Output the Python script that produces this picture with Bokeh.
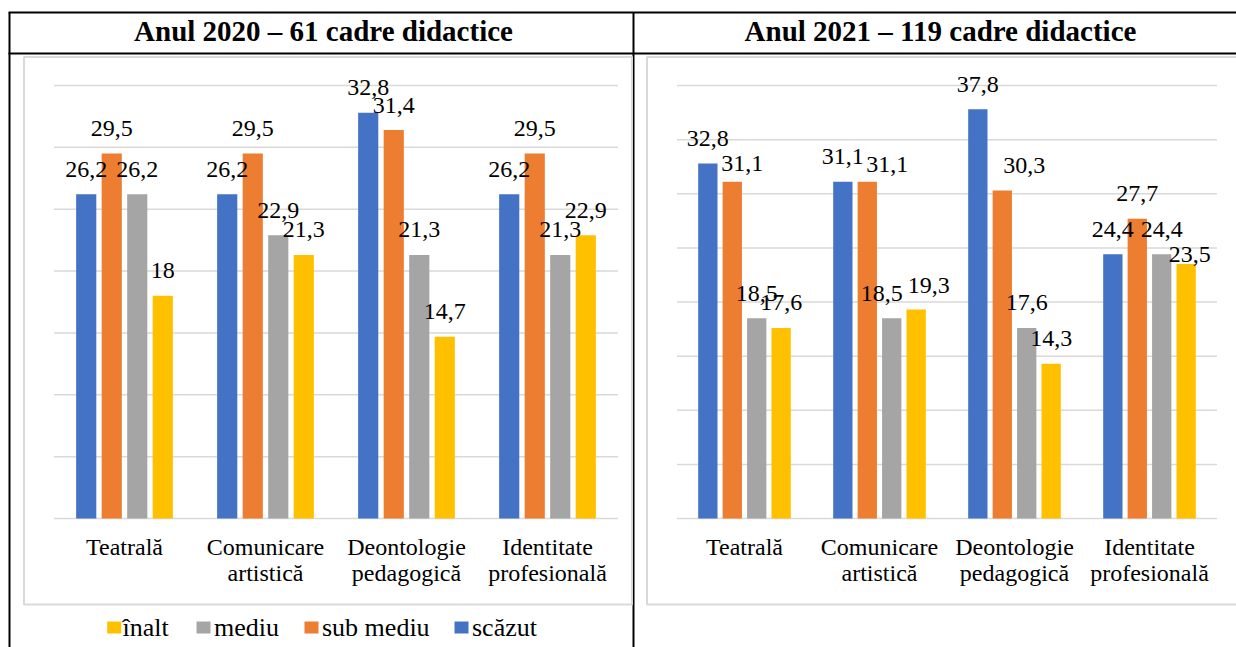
from bokeh.plotting import figure
from bokeh.models import Range1d
from bokeh.core.properties import value
from bokeh.embed import file_html
from bokeh.resources import INLINE

# ---------------- data ----------------
titles = ["Anul 2020 – 61 cadre didactice", "Anul 2021 – 119 cadre didactice"]
categories = ["Teatrală", "Comunicare\nartistică", "Deontologie\npedagogică", "Identitate\nprofesională"]
series_names = ["scăzut", "sub mediu", "mediu", "înalt"]
legend_order = ["înalt", "mediu", "sub mediu", "scăzut"]

scazut_2020 = [26.2, 26.2, 32.8, 26.2]
sub_mediu_2020 = [29.5, 29.5, 31.4, 29.5]
mediu_2020 = [26.2, 22.9, 21.3, 21.3]
inalt_2020 = [18.0, 21.3, 14.7, 22.9]

scazut_2021 = [32.8, 31.1, 37.8, 24.4]
sub_mediu_2021 = [31.1, 31.1, 30.3, 27.7]
mediu_2021 = [18.5, 18.5, 17.6, 24.4]
inalt_2021 = [17.6, 19.3, 14.3, 23.5]

y_max_2020 = 35
y_max_2021 = 40
y_step = 5

# ---------------- styles / layout ----------------
FONT = "Liberation Serif"
COLORS = {"scăzut": "#4472C4", "sub mediu": "#ED7D31", "mediu": "#A5A5A5", "înalt": "#FFC000"}
GRID_COLOR = "#D9D9D9"
W, H = 1236, 647
Y_BASE, Y_TOP = 518, 85          # canvas px of value 0 and of the axis max
BAR_W, BAR_STEP = 0.143, 0.181   # in category units
LABEL_GAP = 25                   # px between bar top and label centre
CAT_MID, CAT_LH = 546, 26.7      # category label line centres
LEG_Y = 627                      # legend row centre
TITLE_Y = 30.5

# manual label nudges (px, dx right / dy down) as in the original document
nudges_2021 = {(0, 1): (10, 7), (1, 1): (20, 7.5), (1, 2): (-10, 0),
               (1, 3): (12.5, 1), (2, 1): (22, 0), (3, 3): (3.5, 15)}

panels = [
    dict(key="L", x0=53.5, x1=617.5, ymax=y_max_2020,
         series=[scazut_2020, sub_mediu_2020, mediu_2020, inalt_2020], nudges={}),
    dict(key="R", x0=676.5, x1=1216.5, ymax=y_max_2021,
         series=[scazut_2021, sub_mediu_2021, mediu_2021, inalt_2021], nudges=nudges_2021),
]


def fmt(v):
    return f"{v:g}".replace(".", ",")


p = figure(width=W, height=H, x_range=Range1d(0, W), y_range=Range1d(H, 0),
           x_axis_type=None, y_axis_type=None, output_backend="svg",
           toolbar_location=None, tools="", min_border=0)
p.outline_line_color = None
p.background_fill_color = "white"
p.border_fill_color = "white"

# table lines
p.segment(x0=[8, 8, 9, 633], x1=[W, W, 9, 633], y0=[12, 53, 12, 12], y1=[12, 53, H, H],
          line_color="black", line_width=2)
# chart frames
p.quad(left=[23.5, 646.5], right=[631.5, 1250], top=[56.5, 56.5], bottom=[604, 604],
       fill_color=None, line_color=GRID_COLOR, line_width=2)
# header titles
p.text(x=[323, 940], y=[TITLE_Y, TITLE_Y], text=titles, text_font=value(FONT),
       text_font_style="bold", text_font_size="29px", text_align="center",
       text_baseline="middle", text_color="black")

xr, yr = {}, {}
geo = {}
n = len(categories)
for pn in panels:
    cw = (pn["x1"] - pn["x0"]) / n
    ppu = (Y_BASE - Y_TOP) / pn["ymax"]
    xr[pn["key"]] = Range1d(start=-pn["x0"] / cw, end=n + (W - pn["x1"]) / cw)
    yr[pn["key"]] = Range1d(start=-(H - Y_BASE) / ppu, end=pn["ymax"] + Y_TOP / ppu)
    geo[pn["key"]] = (cw, ppu)
p.extra_x_ranges = xr
p.extra_y_ranges = yr

for pn in panels:
    key = pn["key"]
    cw, ppu = geo[key]
    ticks = list(range(0, pn["ymax"] + 1, y_step))
    p.segment(x0=[0] * len(ticks), x1=[n] * len(ticks), y0=ticks, y1=ticks,
              line_color=GRID_COLOR, line_width=1.5, x_range_name=key, y_range_name=key)
    lx, ly, lt = [], [], []
    for k, (name, vals) in enumerate(zip(series_names, pn["series"])):
        xs = [i + 0.5 + (k - 1.5) * BAR_STEP for i in range(n)]
        p.vbar(x=xs, top=vals, bottom=0, width=BAR_W, fill_color=COLORS[name], line_color=None,
               x_range_name=key, y_range_name=key)
        for i, v in enumerate(vals):
            dx, dy = pn["nudges"].get((i, k), (0, 0))
            lx.append(xs[i] + dx / cw)
            ly.append(v + (LABEL_GAP - dy) / ppu)
            lt.append(fmt(v))
    p.text(x=lx, y=ly, text=lt, text_font=value(FONT), text_font_size="24px",
           text_align="center", text_baseline="middle", text_color="black",
           x_range_name=key, y_range_name=key)
    cx, cy, ct = [], [], []
    for i, name in enumerate(categories):
        for j, line in enumerate(name.split("\n")):
            cx.append(i + 0.5)
            cy.append(CAT_MID + j * CAT_LH)
            ct.append(line)
    p.text(x=cx, y=cy, text=ct, text_font=value(FONT), text_font_size="24px",
           text_align="center", text_baseline="middle", text_color="black",
           x_range_name=key, y_range_name="default")

# legend (below the 2020 chart)
LEG_SQ_X = [113.7, 203, 311, 461]
LEG_TX_X = [122, 213.5, 321.5, 471.5]
p.rect(x=LEG_SQ_X, y=[LEG_Y] * 4, width=14, height=12,
       fill_color=[COLORS[s] for s in legend_order], line_color=None)
p.text(x=LEG_TX_X, y=[LEG_Y] * 4, text=legend_order, text_font=value(FONT),
       text_font_size="26px", text_align="left", text_baseline="middle", text_color="black")

open("out.html", "w").write(file_html(p, INLINE, "Chart"))
